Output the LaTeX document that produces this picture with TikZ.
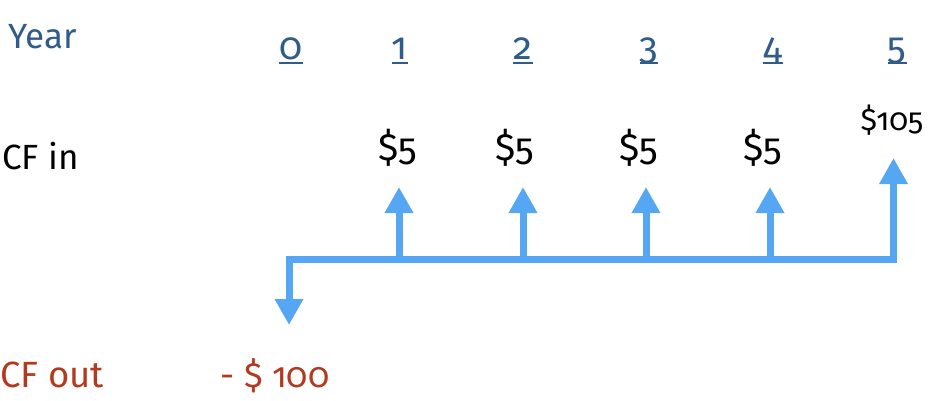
\documentclass[tikz,border=0pt]{standalone}
\usepackage{fontspec}
\setmainfont[Numbers=OldStyle]{Fira Sans}
\usetikzlibrary{arrows.meta}
\definecolor{yearblue}{RGB}{47,92,138}
\definecolor{arrowblue}{RGB}{86,167,243}
\definecolor{outred}{RGB}{178,58,30}
\tikzset{
  lbl/.style={inner sep=0pt, font=\fontsize{35}{40}\selectfont},
  yr/.style={lbl, text=yearblue, anchor=base},
  yrnum/.style={yr, font=\fontsize{38}{42}\selectfont},
  cfin/.style={lbl, text=black},
  money/.style={cfin, font=\fontsize{38}{42}\selectfont},
  cfout/.style={lbl, text=outred, anchor=base},
  uline/.style={yearblue, line width=1.8pt},
  flow/.style={arrowblue, line width=7pt, line join=miter,
    arrows={Triangle[length=26pt,width=27pt]-Triangle[length=26pt,width=27pt]}},
  inflow/.style={arrowblue, line width=7pt, -{Triangle[length=26pt,width=27pt]}},
}
\begin{document}
\begin{tikzpicture}[x=1pt,y=-1pt]
\useasboundingbox (0,0) rectangle (929,401);
% row labels
\node[yr, anchor=base west] (year) at (8,49) {Year};
\node[cfin, anchor=base west] (cfinlbl) at (2,170) {CF in};
\node[cfout, anchor=base west, font=\fontsize{36.5}{40}\selectfont] (cfoutlbl) at (0,387) {CF out};
% year numbers
\foreach \i/\x in {0/291,1/400,2/523,3/649,4/773,5/897}{
  \node[yrnum] (y\i) at (\x,60) {\i};
  \draw[uline] ([yshift=-3pt]y\i.base west) -- ([yshift=-3pt]y\i.base east);
}
% timeline coordinates
\coordinate (t0) at (289,259.5);
\coordinate (a0) at (289,325);
\coordinate (t1) at (399,259.5);
\coordinate (a1) at (399,187);
\coordinate (t2) at (523,259.5);
\coordinate (a2) at (523,187);
\coordinate (t3) at (646,259.5);
\coordinate (a3) at (646,187);
\coordinate (t4) at (770,259.5);
\coordinate (a4) at (770,187);
\coordinate (t5) at (893.5,259.5);
\coordinate (a5) at (893.5,158);
\draw[flow] (a5) -- (t5) -- (t0) -- (a0);
\foreach \i in {1,2,3,4}{
  \draw[inflow] (t\i) -- (a\i);
}
% cash flows in
\node[money] (c1) at (398,148) {\$5};
\node[money] (c2) at (515,148) {\$5};
\node[money] (c3) at (639,148) {\$5};
\node[money] (c4) at (763,148) {\$5};
\node[cfin, font=\fontsize{31}{36}\selectfont] (c5) at (892,120) {\$105};
% cash flow out
\node[cfout] (c0) at (275,387) {- \$ 100};
\end{tikzpicture}
\end{document}
